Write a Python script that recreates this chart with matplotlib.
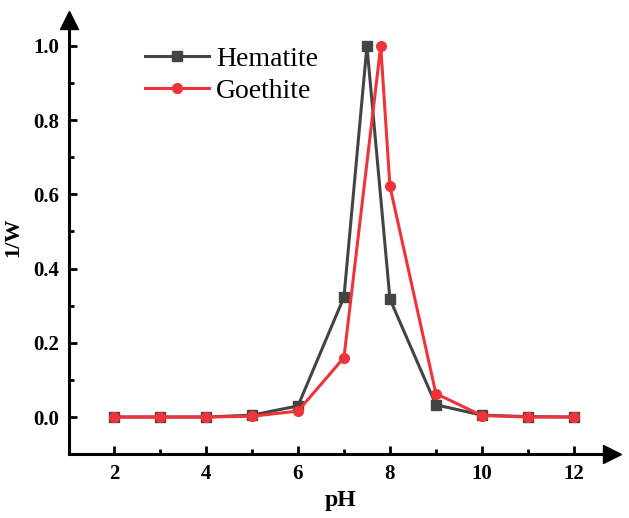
import numpy as np
import matplotlib.pyplot as plt
from matplotlib.ticker import MultipleLocator

plt.rcParams['font.family'] = 'Liberation Serif'

# data
ph_hem = [2, 3, 4, 5, 6, 7, 7.5, 8, 9, 10, 11, 12]
w_hem = [0.0, 0.0, 0.0, 0.005, 0.03, 0.323, 1.0, 0.318, 0.033, 0.005, 0.001, 0.0]
ph_goe = [2, 3, 4, 5, 6, 7, 7.8, 8, 9, 10, 11, 12]
w_goe = [0.0, 0.0, 0.0, 0.002, 0.016, 0.16, 1.0, 0.622, 0.063, 0.004, 0.0, 0.0]

fig = plt.figure(figsize=(6.29, 5.18), dpi=100)
ax = fig.add_axes([69/629, 1-454/518, (612-69)/629, (454-20)/518])

ax.plot(ph_hem, w_hem, '-s', color='#444444', lw=2.2, ms=6.5, label='Hematite', zorder=3)
ax.plot(ph_goe, w_goe, '-o', color='#ef3339', lw=2.2, ms=7, label='Goethite', zorder=4)

ax.set_xlim(1.02, 12.83)
ax.set_ylim(-0.0997, 1.07)

ax.xaxis.set_major_locator(MultipleLocator(2))
ax.xaxis.set_minor_locator(MultipleLocator(1))
ax.yaxis.set_major_locator(MultipleLocator(0.2))
ax.yaxis.set_minor_locator(MultipleLocator(0.1))
ax.yaxis.set_major_formatter(plt.FormatStrFormatter('%.1f'))

for s in ['top', 'right']:
    ax.spines[s].set_visible(False)
for s in ['left', 'bottom']:
    ax.spines[s].set_linewidth(2.2)

ax.tick_params(which='both', direction='in', width=2.0)
ax.tick_params(which='major', length=6, labelsize=15, pad=7)
ax.tick_params(which='minor', length=3.5)
for lab in ax.get_xticklabels() + ax.get_yticklabels():
    lab.set_fontweight('bold')

# arrow heads on the axes
ax.plot(1, 0, marker='>', color='k', ms=13, transform=ax.transAxes, clip_on=False)
ax.plot(0, 1, marker='^', color='k', ms=13, transform=ax.transAxes, clip_on=False)

ax.set_xlabel('pH', fontsize=17, fontweight='bold')
ax.set_ylabel('1/W', fontsize=16, fontweight='bold')
ax.xaxis.set_label_coords(0.5, -0.083)
ax.yaxis.set_label_coords(-0.085, 0.5)

ax.legend(loc='upper left', bbox_to_anchor=(0.12, 0.965), frameon=False, fontsize=20,
          handlelength=2.3, handletextpad=0.25, labelspacing=0.25, borderaxespad=0)

plt.savefig('out.png', dpi=100)
